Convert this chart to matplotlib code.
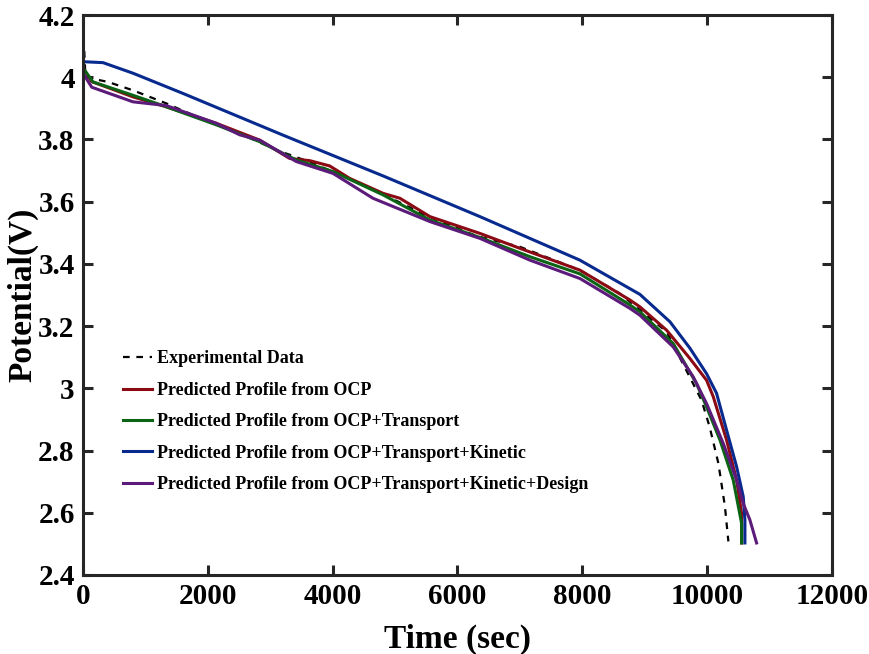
import matplotlib
matplotlib.use("Agg")
import matplotlib.pyplot as plt

# ---- data ----
t_exp = [0, 40, 400, 800, 1335, 1800, 2400, 3100, 3600, 4200, 4800, 5500, 6300,
         7000, 7960, 8600, 9350, 9910, 10040, 10180, 10285, 10340]
v_exp = [4.17, 4.00, 3.985, 3.958, 3.916, 3.875, 3.830, 3.766, 3.73, 3.68, 3.625,
         3.555, 3.49, 3.455, 3.38, 3.305, 3.182, 2.962, 2.876, 2.759, 2.62, 2.508]

t_ocp = [0, 140, 800, 1335, 2136, 2830, 3311, 3631, 3952, 4272, 4806, 5078, 5559,
         6360, 7001, 7962, 8763, 8923, 9350, 9724, 9991, 10098, 10311, 10472,
         10552, 10552]
v_ocp = [4.03, 3.986, 3.937, 3.905, 3.852, 3.798, 3.739, 3.732, 3.715, 3.675,
         3.627, 3.611, 3.552, 3.498, 3.450, 3.380, 3.284, 3.262, 3.187, 3.096,
         3.026, 2.973, 2.834, 2.705, 2.598, 2.503]

t_trn = [0, 160, 801, 1335, 2136, 2830, 3418, 4005, 4806, 5559, 6360, 7161, 7962,
         8763, 8923, 9457, 9831, 9991, 10205, 10418, 10552, 10552]
v_trn = [4.03, 3.985, 3.942, 3.905, 3.847, 3.793, 3.734, 3.697, 3.622, 3.541,
         3.485, 3.423, 3.368, 3.268, 3.246, 3.144, 3.015, 2.940, 2.834, 2.705,
         2.566, 2.503]

t_kin = [0, 320, 801, 1602, 3204, 4806, 6360, 7962, 8923, 9404, 9724, 9991,
         10151, 10311, 10472, 10578, 10605, 10605]
v_kin = [4.050, 4.047, 4.013, 3.948, 3.814, 3.683, 3.552, 3.412, 3.302, 3.214,
         3.129, 3.047, 2.984, 2.866, 2.748, 2.652, 2.577, 2.503]

t_des = [0, 140, 801, 1335, 2136, 2510, 2830, 3418, 4005, 4646, 5559, 6360, 7161,
         7962, 8763, 8923, 9457, 9777, 9991, 10258, 10472, 10578, 10685, 10792]
v_des = [4.013, 3.968, 3.921, 3.909, 3.852, 3.815, 3.798, 3.729, 3.691, 3.611,
         3.536, 3.482, 3.412, 3.353, 3.257, 3.235, 3.133, 3.037, 2.951, 2.823,
         2.705, 2.630, 2.577, 2.503]

labels = ["Experimental Data",
          "Predicted Profile from OCP",
          "Predicted Profile from OCP+Transport",
          "Predicted Profile from OCP+Transport+Kinetic",
          "Predicted Profile from OCP+Transport+Kinetic+Design"]

xticks = [0, 2000, 4000, 6000, 8000, 10000, 12000]
yticks = [2.4, 2.6, 2.8, 3.0, 3.2, 3.4, 3.6, 3.8, 4.0, 4.2]
yticklabels = ["2.4", "2.6", "2.8", "3", "3.2", "3.4", "3.6", "3.8", "4", "4.2"]

plt.rcParams['font.family'] = ['Liberation Serif', 'DejaVu Serif']
plt.rcParams['font.weight'] = 'bold'

fig = plt.figure(figsize=(8.7, 6.54), dpi=100)
ax = fig.add_axes([0.0954, 0.1208, 0.8609, 0.8562])

ax.plot(t_exp, v_exp, color='black', ls=(0, (3, 3)), lw=1.6, label=labels[0])
ax.plot(t_ocp, v_ocp, color='#8c0a14', lw=2.2, label=labels[1])
ax.plot(t_trn, v_trn, color='#0a6414', lw=2.2, label=labels[2])
ax.plot(t_kin, v_kin, color='#082a8e', lw=2.2, label=labels[3])
ax.plot(t_des, v_des, color='#5c1a7a', lw=2.2, label=labels[4])

ax.set_xlim(0, 12000)
ax.set_ylim(2.4, 4.2)
ax.set_xticks(xticks)
ax.set_xticklabels([str(x) for x in xticks])
ax.set_yticks(yticks)
ax.set_yticklabels(yticklabels)

for sp in ax.spines.values():
    sp.set_linewidth(2.2)
    sp.set_color('#262626')
ax.tick_params(direction='in', length=7, width=2.2, color='#262626',
               top=True, right=True, labelsize=21, pad=6)
for lab in ax.get_xticklabels() + ax.get_yticklabels():
    lab.set_fontweight('bold')

ax.set_xlabel("Time (sec)", fontsize=24, fontweight='bold', labelpad=10)
ax.set_ylabel("Potential(V)", fontsize=24, fontweight='bold', labelpad=0)

ax.legend(loc='upper left', bbox_to_anchor=(0.044, 0.414), frameon=False,
          prop={'size': 13, 'weight': 'bold'}, handlelength=1.6,
          handletextpad=0.25, labelspacing=0.8, borderaxespad=0)

fig.savefig("out.png", dpi=100)
